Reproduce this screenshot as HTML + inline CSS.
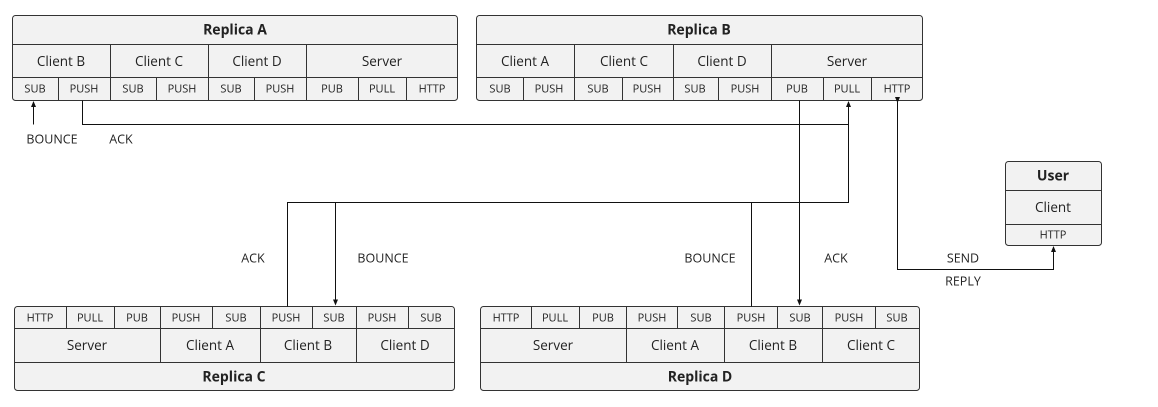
<!DOCTYPE html>
<html><head><meta charset="utf-8"><style>
html,body{margin:0;padding:0;background:#fff;}
svg{display:block;}
text{font-family:"Open Sans","DejaVu Sans","Liberation Sans",sans-serif;fill:#222;text-anchor:middle;dominant-baseline:central;}
.t{font-size:14px;font-weight:bold;}
.c{font-size:13.5px;}
.p{font-size:11px;}
.l{font-size:12.5px;}
rect{fill:#f2f2f2;stroke:#333;stroke-width:1;}
line,polyline{stroke:#111;stroke-width:1;fill:none;}
.d{stroke:#333;}
</style></head><body>
<svg width="1158" height="407" viewBox="0 0 1158 407">
<defs><marker id="a" viewBox="0 0 6 6" refX="5" refY="3" markerWidth="6" markerHeight="6" orient="auto"><path d="M0,0.5L6,3L0,5.5z" fill="#111"/></marker></defs>

<!-- Replica A -->
<rect x="12.5" y="15.5" width="445" height="85" rx="3"/>
<line class="d" x1="12.5" y1="44.5" x2="457.5" y2="44.5"/>
<line class="d" x1="12.5" y1="77.5" x2="457.5" y2="77.5"/>
<line class="d" x1="110.5" y1="44.5" x2="110.5" y2="100.5"/>
<line class="d" x1="208.5" y1="44.5" x2="208.5" y2="100.5"/>
<line class="d" x1="306.5" y1="44.5" x2="306.5" y2="100.5"/>
<line class="d" x1="58.5" y1="77.5" x2="58.5" y2="100.5"/>
<line class="d" x1="156.5" y1="77.5" x2="156.5" y2="100.5"/>
<line class="d" x1="254.5" y1="77.5" x2="254.5" y2="100.5"/>
<line class="d" x1="358.5" y1="77.5" x2="358.5" y2="100.5"/>
<line class="d" x1="406.5" y1="77.5" x2="406.5" y2="100.5"/>
<text class="t" x="235" y="30">Replica A</text>
<text class="c" x="61" y="61">Client B</text><text class="c" x="159" y="61">Client C</text><text class="c" x="257" y="61">Client D</text><text class="c" x="382" y="61">Server</text>
<text class="p" x="35" y="89">SUB</text><text class="p" x="84" y="89">PUSH</text><text class="p" x="133" y="89">SUB</text><text class="p" x="182" y="89">PUSH</text><text class="p" x="231" y="89">SUB</text><text class="p" x="280" y="89">PUSH</text><text class="p" x="332" y="89">PUB</text><text class="p" x="382" y="89">PULL</text><text class="p" x="432" y="89">HTTP</text>

<!-- Replica B -->
<rect x="476.5" y="15.5" width="446" height="85" rx="3"/>
<line class="d" x1="476.5" y1="44.5" x2="922.5" y2="44.5"/>
<line class="d" x1="476.5" y1="77.5" x2="922.5" y2="77.5"/>
<line class="d" x1="574.5" y1="44.5" x2="574.5" y2="100.5"/>
<line class="d" x1="673.5" y1="44.5" x2="673.5" y2="100.5"/>
<line class="d" x1="771.5" y1="44.5" x2="771.5" y2="100.5"/>
<line class="d" x1="523.5" y1="77.5" x2="523.5" y2="100.5"/>
<line class="d" x1="622.5" y1="77.5" x2="622.5" y2="100.5"/>
<line class="d" x1="718.5" y1="77.5" x2="718.5" y2="100.5"/>
<line class="d" x1="823.5" y1="77.5" x2="823.5" y2="100.5"/>
<line class="d" x1="871.5" y1="77.5" x2="871.5" y2="100.5"/>
<text class="t" x="699" y="30">Replica B</text>
<text class="c" x="525" y="61">Client A</text><text class="c" x="624" y="61">Client C</text><text class="c" x="722" y="61">Client D</text><text class="c" x="847" y="61">Server</text>
<text class="p" x="500" y="89">SUB</text><text class="p" x="549" y="89">PUSH</text><text class="p" x="598" y="89">SUB</text><text class="p" x="647" y="89">PUSH</text><text class="p" x="695" y="89">SUB</text><text class="p" x="745" y="89">PUSH</text><text class="p" x="797" y="89">PUB</text><text class="p" x="847" y="89">PULL</text><text class="p" x="897" y="89">HTTP</text>

<!-- Replica C -->
<rect x="14.5" y="306.5" width="440" height="84" rx="3"/>
<line class="d" x1="14.5" y1="328.5" x2="454.5" y2="328.5"/>
<line class="d" x1="14.5" y1="362.5" x2="454.5" y2="362.5"/>
<line class="d" x1="160.5" y1="306.5" x2="160.5" y2="362.5"/>
<line class="d" x1="260.5" y1="306.5" x2="260.5" y2="362.5"/>
<line class="d" x1="356.5" y1="306.5" x2="356.5" y2="362.5"/>
<line class="d" x1="66.5" y1="306.5" x2="66.5" y2="328.5"/>
<line class="d" x1="114.5" y1="306.5" x2="114.5" y2="328.5"/>
<line class="d" x1="212.5" y1="306.5" x2="212.5" y2="328.5"/>
<line class="d" x1="312.5" y1="306.5" x2="312.5" y2="328.5"/>
<line class="d" x1="408.5" y1="306.5" x2="408.5" y2="328.5"/>
<text class="p" x="40" y="318">HTTP</text><text class="p" x="90" y="318">PULL</text><text class="p" x="137" y="318">PUB</text><text class="p" x="186" y="318">PUSH</text><text class="p" x="236" y="318">SUB</text><text class="p" x="286" y="318">PUSH</text><text class="p" x="334" y="318">SUB</text><text class="p" x="382" y="318">PUSH</text><text class="p" x="431" y="318">SUB</text>
<text class="c" x="87" y="345">Server</text><text class="c" x="210" y="345">Client A</text><text class="c" x="308" y="345">Client B</text><text class="c" x="405" y="345">Client D</text>
<text class="t" x="234" y="377">Replica C</text>

<!-- Replica D -->
<rect x="480.5" y="306.5" width="439" height="84" rx="3"/>
<line class="d" x1="480.5" y1="328.5" x2="919.5" y2="328.5"/>
<line class="d" x1="480.5" y1="362.5" x2="919.5" y2="362.5"/>
<line class="d" x1="626.5" y1="306.5" x2="626.5" y2="362.5"/>
<line class="d" x1="724.5" y1="306.5" x2="724.5" y2="362.5"/>
<line class="d" x1="822.5" y1="306.5" x2="822.5" y2="362.5"/>
<line class="d" x1="531.5" y1="306.5" x2="531.5" y2="328.5"/>
<line class="d" x1="579.5" y1="306.5" x2="579.5" y2="328.5"/>
<line class="d" x1="677.5" y1="306.5" x2="677.5" y2="328.5"/>
<line class="d" x1="777.5" y1="306.5" x2="777.5" y2="328.5"/>
<line class="d" x1="875.5" y1="306.5" x2="875.5" y2="328.5"/>
<text class="p" x="506" y="318">HTTP</text><text class="p" x="555" y="318">PULL</text><text class="p" x="603" y="318">PUB</text><text class="p" x="652" y="318">PUSH</text><text class="p" x="701" y="318">SUB</text><text class="p" x="751" y="318">PUSH</text><text class="p" x="800" y="318">SUB</text><text class="p" x="849" y="318">PUSH</text><text class="p" x="897" y="318">SUB</text>
<text class="c" x="553" y="345">Server</text><text class="c" x="675" y="345">Client A</text><text class="c" x="773" y="345">Client B</text><text class="c" x="871" y="345">Client C</text>
<text class="t" x="700" y="377">Replica D</text>

<!-- User -->
<rect x="1005.5" y="161.5" width="96" height="84" rx="3"/>
<line class="d" x1="1005.5" y1="190.5" x2="1101.5" y2="190.5"/>
<line class="d" x1="1005.5" y1="224.5" x2="1101.5" y2="224.5"/>
<text class="t" x="1053" y="176">User</text>
<text class="c" x="1053" y="207">Client</text>
<text class="p" x="1053" y="235">HTTP</text>

<!-- connectors -->
<polyline points="82.5,100.5 82.5,124.5 848.5,124.5 848.5,102"  marker-end="url(#a)"/>
<line x1="33.5" y1="124.5" x2="33.5" y2="102" marker-end="url(#a)"/>
<polyline points="287.5,306.5 287.5,202.5 848.5,202.5 848.5,124.5"/>
<line x1="335.5" y1="202.5" x2="335.5" y2="304.5" marker-end="url(#a)"/>
<line x1="751.5" y1="202.5" x2="751.5" y2="306.5"/>
<line x1="799.5" y1="100.5" x2="799.5" y2="304.5" marker-end="url(#a)"/>
<polyline points="897.5,102 897.5,269.5 1053.5,269.5 1053.5,247" marker-start="url(#a)" marker-end="url(#a)"/>

<text class="l" x="52" y="139">BOUNCE</text>
<text class="l" x="121" y="139">ACK</text>
<text class="l" x="253" y="258">ACK</text>
<text class="l" x="383" y="258">BOUNCE</text>
<text class="l" x="710" y="258">BOUNCE</text>
<text class="l" x="836" y="258">ACK</text>
<text class="l" x="963" y="258">SEND</text>
<text class="l" x="963" y="281">REPLY</text>
</svg>
<style>marker path{}</style>
</body></html>
